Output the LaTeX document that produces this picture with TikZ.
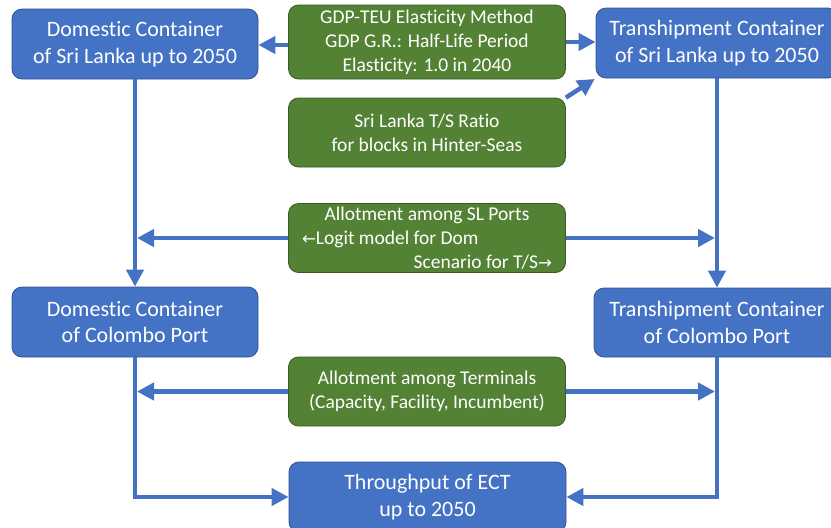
\documentclass[tikz,border=0pt]{standalone}
\usepackage{fontspec}
\setmainfont{Carlito}[Ligatures=NoCommon]
\newfontfamily\arrowfont{DejaVu Sans}[Scale=0.85]
\usetikzlibrary{arrows.meta}
\definecolor{boxblue}{HTML}{4472C4}
\definecolor{boxblueedge}{HTML}{2F528F}
\definecolor{boxgreen}{HTML}{548235}
\definecolor{boxgreenedge}{HTML}{3A5A24}
\tikzset{
  bluebox/.style={draw=boxblueedge, line width=0.8pt, fill=boxblue, rounded corners=10pt,
    inner sep=0pt, text=white, align=center, font=\fontsize{22}{26.5}\selectfont},
  greenbox/.style={draw=boxgreenedge, line width=0.8pt, fill=boxgreen, rounded corners=10pt,
    inner sep=0pt, text=white, align=center, minimum width=277pt, minimum height=69pt,
    font=\fontsize{19.5}{24}\selectfont},
  conn/.style={draw=boxblue, line width=4.5pt, -{Triangle[length=17pt,width=17pt]}}
}
\begin{document}
\begin{tikzpicture}[x=1pt,y=-1pt]
\useasboundingbox (0,0) rectangle (831,528);
% blue boxes
\node[bluebox, minimum width=246pt, minimum height=70pt] (dsl) at (135,44) {Domestic Container\\of Sri Lanka up to 2050};
\node[bluebox, minimum width=242pt, minimum height=70pt] (tsl) at (717,43) {Transhipment Container\\of Sri Lanka up to 2050};
\node[bluebox, minimum width=246pt, minimum height=70pt] (dcol) at (135,322) {Domestic Container\\of Colombo Port};
\node[bluebox, minimum width=246pt, minimum height=69pt] (tscol) at (717,322.5) {Transhipment Container\\of Colombo Port};
\node[bluebox, minimum width=277pt, minimum height=70pt] (ect) at (427.5,497) {Throughput of ECT\\up to 2050};
% green boxes
\node[greenbox, minimum height=74pt] (gdp) at (427,42) {GDP-TEU Elasticity Method\\GDP G.R.: Half-Life Period\\Elasticity: 1.0 in 2040};
\node[greenbox] (tsr) at (427,132.5) {Sri Lanka T/S Ratio\\for blocks in Hinter-Seas};
\node[greenbox] (asl) at (427,238) {Allotment among SL Ports\\\makebox[250pt][l]{{\arrowfont ←}Logit model for Dom}\\\makebox[250pt][r]{Scenario for T/S{\arrowfont →}}};
\node[greenbox] (atm) at (427,391.5) {Allotment among Terminals\\(Capacity, Facility, Incumbent)};
% connectors
\draw[conn] ([yshift=-3pt]gdp.west) -- ([yshift=-3pt]gdp.west -| dsl.east);
\draw[conn] (gdp.east) -- (gdp.east -| tsl.west);
\draw[conn, shorten >=1pt] (tsr.north east) -- (tsl.south west);
\draw[conn] (dsl.south) -- (dcol.north);
\draw[conn] (tsl.south) -- (tscol.north);
\draw[conn] (asl.west) -- ([xshift=2pt]asl.west -| dsl.south);
\draw[conn] (asl.east) -- ([xshift=-2pt]asl.east -| tsl.south);
\draw[conn] (atm.west) -- ([xshift=2pt]atm.west -| dcol.south);
\draw[conn] (atm.east) -- ([xshift=-2pt]atm.east -| tscol.south);
\draw[conn] (dcol.south) |- (ect.west);
\draw[conn] (tscol.south) |- (ect.east);
\end{tikzpicture}
\end{document}
